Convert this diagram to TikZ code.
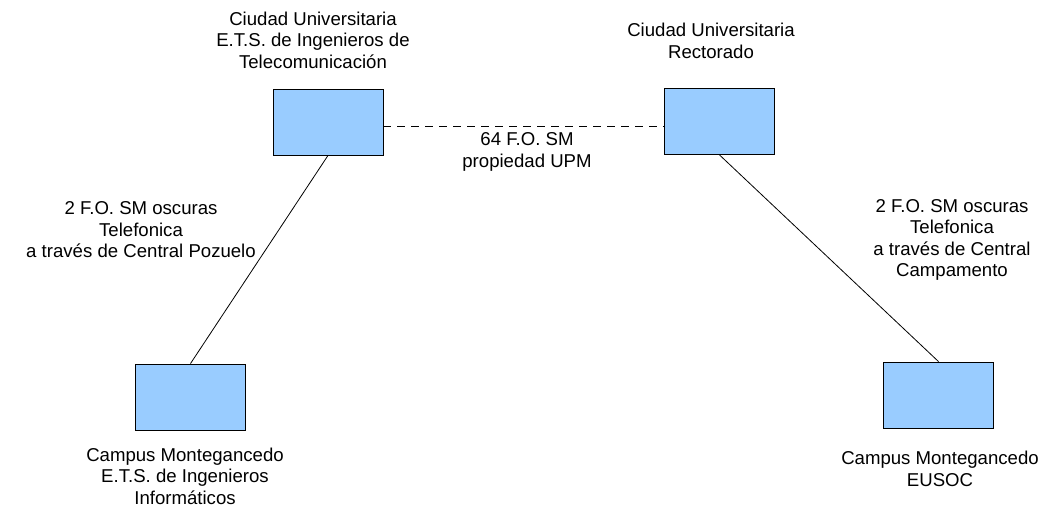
\documentclass[tikz,border=0pt]{standalone}
\usepackage{fontspec}
\setmainfont{Liberation Sans}
\begin{document}
\begin{tikzpicture}[x=1pt, y=-1pt,
        site/.style = {rectangle, draw=black, line width=0.9pt, fill={rgb,255:red,153;green,204;blue,255}, minimum width=110pt, minimum height=66pt, inner sep=0pt},
        label/.style = {align=center, inner sep=0pt, font=\fontsize{18.6}{21.5}\selectfont},
        link/.style = {line width=0.8pt, black}
    ]
    \useasboundingbox (0,0) rectangle (1045,509);

    % ================= SEDES =================
    \node[site] (tel) at (328, 122) {};
    \node[site] (rect) at (719, 121) {};
    \node[site] (fi) at (190.5, 397) {};
    \node[site] (eusoc) at (938.5, 395) {};

    % ================= ETIQUETAS DE SEDES =================
    \node[label] (labtel) at (313, 40) {Ciudad Universitaria \\ E.T.S. de Ingenieros de \\ Telecomunicación};
    \node[label] (labrect) at (711, 41) {Ciudad Universitaria \\ Rectorado};
    \node[label] (labfi) at (185, 476) {Campus Montegancedo \\ E.T.S. de Ingenieros \\ Informáticos};
    \node[label] (labeusoc) at (940, 469) {Campus Montegancedo \\ EUSOC};

    % ================= ENLACES =================
    \draw[link, dash pattern=on 8pt off 6pt] ([yshift=-4pt]tel.east) -- ([yshift=-5pt]rect.west);
    \draw[link] (tel.south) -- (fi.north);
    \draw[link] (rect.south) -- (eusoc.north);

    % Etiquetas de enlaces
    \node[label] (labupm) at (527, 152) {64 F.O. SM \\ propiedad UPM};
    \node[label] (labpoz) at (141, 230) {2 F.O. SM oscuras \\ Telefonica \\ a través de Central Pozuelo};
    \node[label] (labcamp) at (952, 240) {2 F.O. SM oscuras \\ Telefonica \\ a través de Central \\ Campamento};

\end{tikzpicture}
\end{document}
